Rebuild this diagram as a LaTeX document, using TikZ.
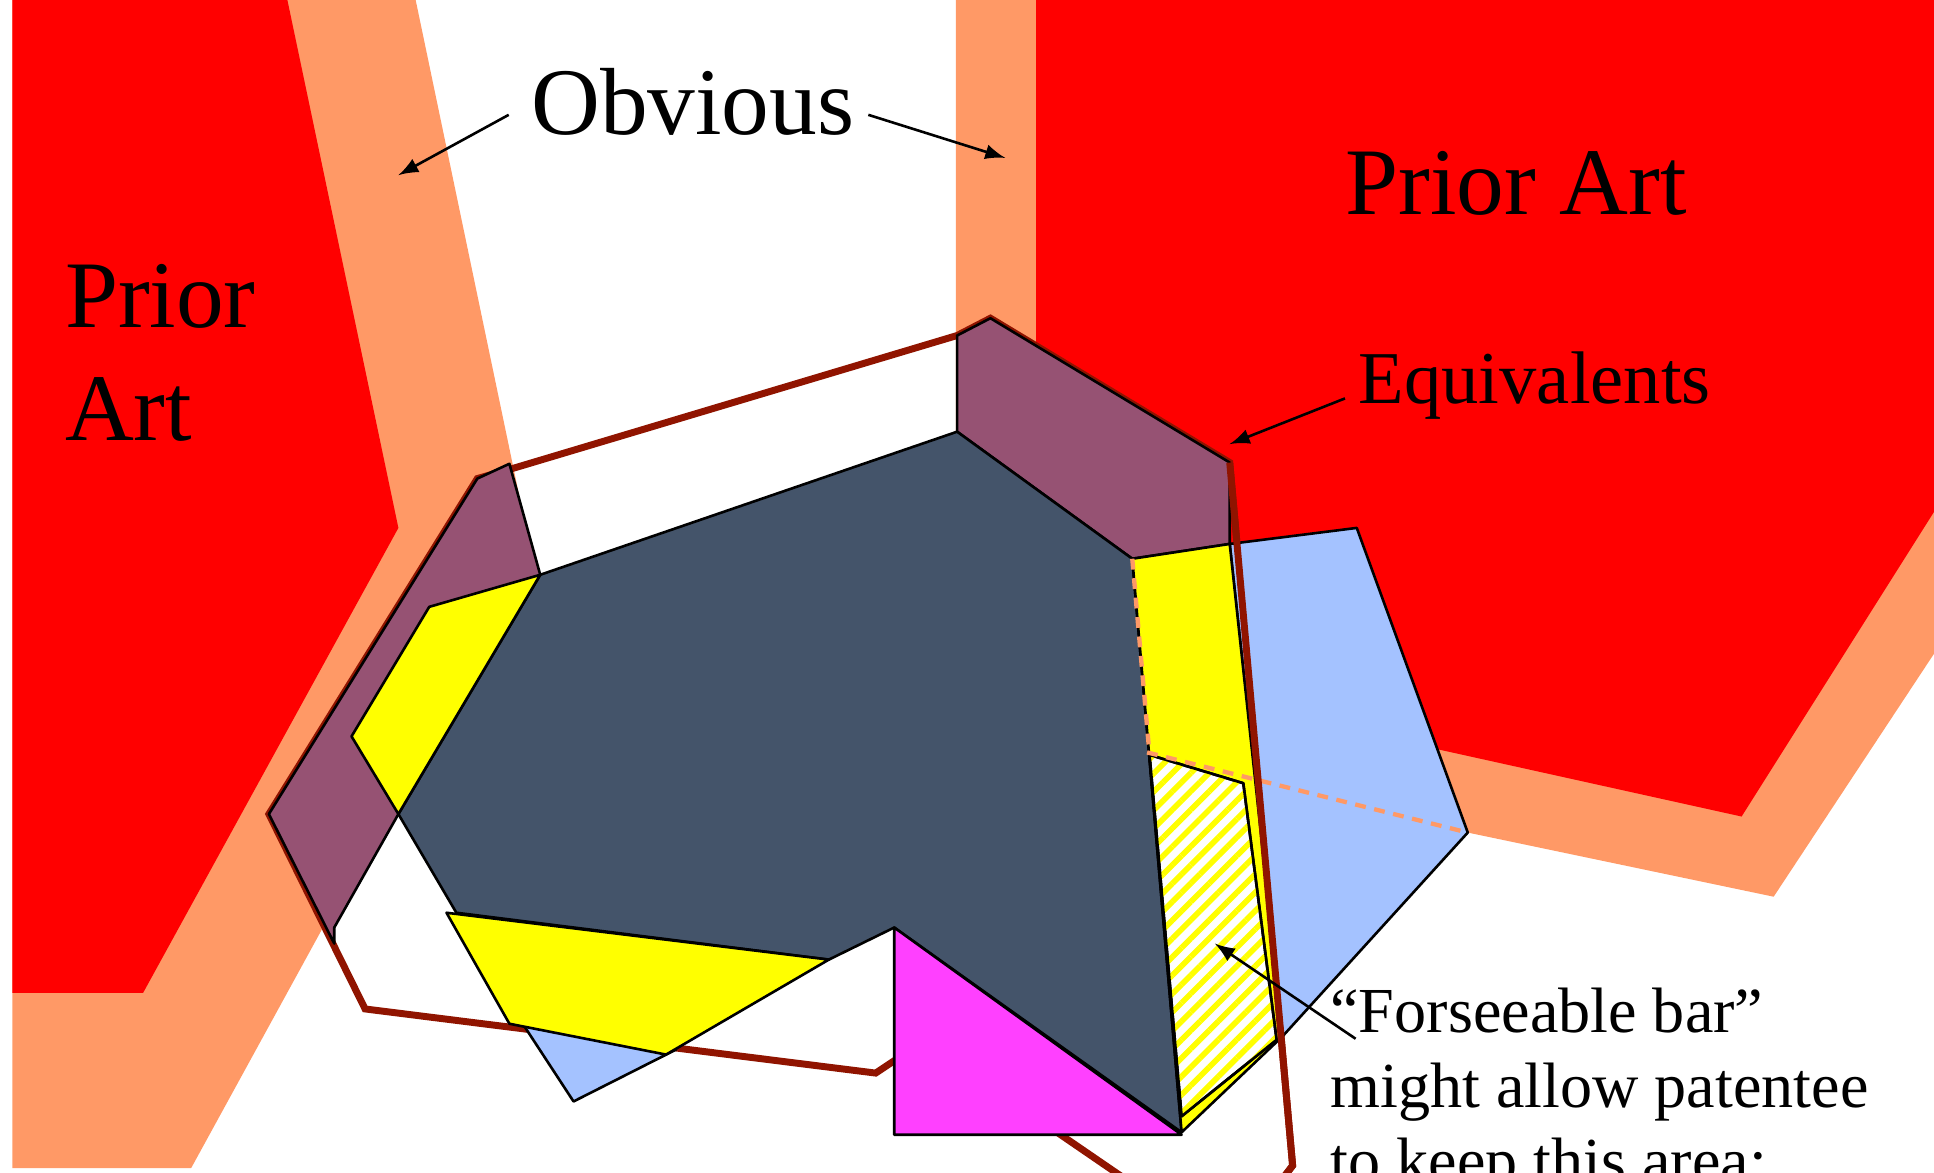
\documentclass[tikz,border=0pt]{standalone}
\usepackage{fontspec}
\setmainfont{Liberation Serif}
\usetikzlibrary{patterns.meta}

\definecolor{priorred}{RGB}{255,0,0}
\definecolor{obvorange}{RGB}{255,153,102}
\definecolor{equmauve}{RGB}{150,82,115}
\definecolor{claimgrey}{RGB}{68,84,106}
\definecolor{paleblue}{RGB}{164,194,255}
\definecolor{pinkish}{RGB}{255,64,255}
\definecolor{pureyellow}{RGB}{255,255,0}
\definecolor{outlinebrown}{RGB}{144,20,0}

\tikzset{
  piece/.style={draw=black, line width=0.6pt, line join=round},
  brownline/.style={draw=outlinebrown, line width=1.6pt},
  bigtext/.style={font=\fontsize{22}{26}\selectfont, inner sep=0pt},
  midtext/.style={font=\fontsize{17.2}{21}\selectfont, inner sep=0pt},
  smalltext/.style={font=\fontsize{14.8}{17.4}\selectfont, inner sep=0pt, align=left},
  pointer/.style={->, line width=0.6pt}
}

\begin{document}
\begin{tikzpicture}[x=0.1mm, y=-0.1mm, >=latex]
        \useasboundingbox (0,0) rectangle (1568,951);
        \clip (0,0) rectangle (1568,951);
        % define point
        \coordinate (G1) at (438,466);
        \coordinate (G2) at (776,350);
        \coordinate (G3) at (918,453);
        \coordinate (G4) at (958,918);
        \coordinate (G5) at (725,752);
        \coordinate (G6) at (323,660);
        \coordinate (Y1) at (997,441);
        \coordinate (Y2) at (1040,840);
        \coordinate (H1) at (932,612);
        % prior art and obvious bands
        \fill[obvorange] (10,0) -- (337,0) -- (430,445) -- (155,947) -- (10,947) -- cycle;
        \fill[priorred] (10,0) -- (233,0) -- (323,428) -- (116,805) -- (10,805) -- cycle;
        \fill[obvorange] (775,0) -- (1568,0) -- (1568,530) -- (1438,727) -- (1190,675)
                -- (930,610) -- (775,600) -- cycle;
        \fill[priorred] (840,0) -- (1568,0) -- (1568,415) -- (1412,662) -- (1168,608)
                -- (1000,570) -- (840,540) -- cycle;
        % equivalents outline
        \draw[brownline] (415,380) -- (776,272) -- (803,258) -- (997,375) -- (1048,945)
                -- (1035,962) -- (930,968) -- (749,844) -- (710,870) -- (296,818)
                -- (218,660) -- (387,388) -- cycle;
        % equivalents
        \filldraw[piece, fill=equmauve] (387,388) -- (413,376) -- (G1) -- (G6) -- (271,752)
                -- (271,765) -- (218,660) -- cycle;
        \filldraw[piece, fill=equmauve] (776,272) -- (803,258) -- (997,375) -- (Y1) -- (G3)
                -- (G2) -- cycle;
        % claim
        \filldraw[piece, fill=claimgrey] (G1) -- (G2) -- (G3) -- (G4) -- (G5) -- (672,778)
                -- (370,740) -- (G6) -- cycle;
        \filldraw[piece, fill=pureyellow] (348,492) -- (G1) -- (G6) -- (285,597) -- cycle;
        \filldraw[piece, fill=paleblue] (414,815) -- (465,893) -- (548,851) -- cycle;
        \filldraw[piece, fill=pureyellow] (362,740) -- (672,778) -- (540,855) -- (413,830) -- cycle;
        \filldraw[piece, fill=pinkish] (G5) -- (725,920) -- (958,920) -- cycle;
        \filldraw[piece, fill=paleblue] (Y1) -- (1100,428) -- (1190,675) -- (Y2) -- cycle;
        \filldraw[piece, fill=pureyellow] (G3) -- (Y1) -- (Y2) -- (G4) -- cycle;
        \filldraw[piece, fill=white] (H1) -- (1008,635) -- (1035,843) -- (958,905) -- cycle;
        \fill[pattern={Lines[angle=45,distance=3pt,line width=1.3pt]}, pattern color=pureyellow]
                (H1) -- (1008,635) -- (1035,843) -- (958,905) -- cycle;
        \draw[piece] (H1) -- (1008,635) -- (1035,843) -- (958,905) -- cycle;
        % edge of the obvious band
        \draw[obvorange, line width=1pt, dash pattern=on 2.5pt off 2pt] (G3) -- (H1);
        \draw[obvorange, line width=1pt, dash pattern=on 2.5pt off 2pt] (930,610) -- (1190,675);
        \draw[brownline] (997,375) -- (1048,945) -- (1035,962);
        % labels
        \node[bigtext, anchor=base west] (obvious) at (430,109) {Obvious};
        \node[bigtext, anchor=base west] (priorright) at (1090,174) {Prior Art};
        \node[bigtext, anchor=base west, align=left] (priorleft) at (52,357) {Prior\\Art};
        \node[midtext, anchor=base west] (equiv) at (1101,327) {Equivalents};
        \node[smalltext, anchor=north west] (forsee) at (1078,800)
                {``Forseeable bar''\\might allow patentee\\to keep this area;};
        % arrows
        \coordinate (obvL) at (323,142);
        \coordinate (obvR) at (815,128);
        \coordinate (equP) at (997,360);
        \coordinate (hatchP) at (985,765);
        \draw[pointer] ([xshift=-5pt,yshift=-3pt]obvious.west) -- (obvL);
        \draw[pointer] ([xshift=3pt,yshift=-3pt]obvious.east) -- (obvR);
        \draw[pointer] ([xshift=-3pt,yshift=-3pt]equiv.west) -- (equP);
        \draw[pointer] ([xshift=6pt,yshift=-12pt]forsee.north west) -- (hatchP);
    \end{tikzpicture}
\end{document}
